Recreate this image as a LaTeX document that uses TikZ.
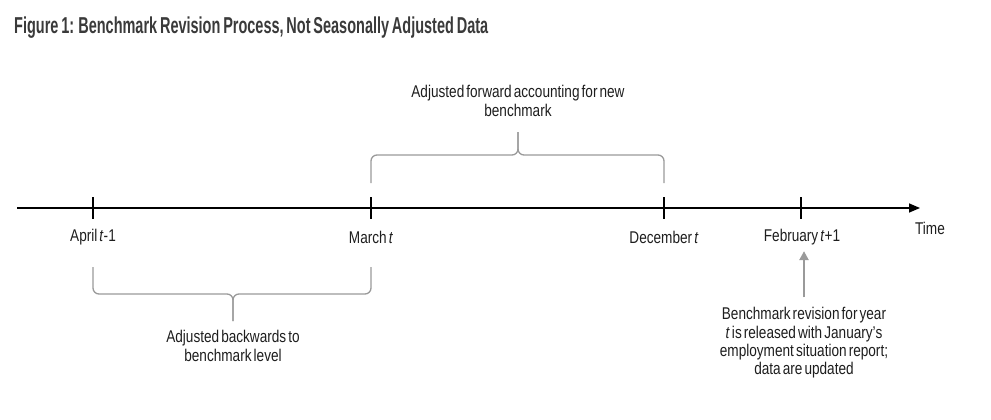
\documentclass[tikz,border=0pt]{standalone}
\usepackage{fontspec}
\setmainfont{Liberation Sans}[FakeStretch=0.8,WordSpace=0.55]
\newfontfamily\titlefont{Liberation Sans}[FakeStretch=0.63,WordSpace=0.7]
\usetikzlibrary{arrows.meta}
\definecolor{titlegray}{HTML}{3A3A3A}
\definecolor{bracegray}{HTML}{9A9A9A}
\definecolor{textblack}{HTML}{1E1E1E}

\tikzset{
  brace/.style={draw=bracegray, line width=1.3pt, rounded corners=6pt},
  tick/.style={line width=1.3pt},
  label/.style={text=textblack, inner sep=1pt},
  note/.style={text=textblack, align=center, inner sep=1pt},
}

\begin{document}
\begin{tikzpicture}[x=1pt,y=-1pt,font=\fontsize{17}{18.4}\selectfont]
                \useasboundingbox (0,0) rectangle (991,420);

                \node[anchor=west, inner sep=0, text=titlegray,
                      font=\titlefont\bfseries\fontsize{23}{26}\selectfont] (title) at (14,28)
                      {Figure 1: Benchmark Revision Process, Not Seasonally Adjusted Data};

                \coordinate (start) at (17,208);
                \coordinate (end) at (920,208);
                \coordinate (apr) at (93,208);
                \coordinate (mar) at (371,208);
                \coordinate (dec) at (664,208);
                \coordinate (feb) at (801,208);

                \draw[line width=1.5pt, -{Triangle[length=11pt,width=9pt]}] (start) -- (end);
                \foreach \m in {apr,mar,dec,feb}
                    \draw[tick] (\m) ++(0,-11) -- ++(0,22);

                \node[label] (aprlbl) at (93,237) {April \textit{t}-1};
                \node[label] (marlbl) at (371,237) {March \textit{t}};
                \node[label] (declbl) at (664,237) {December \textit{t}};
                \node[label] (feblbl) at (802,237) {February \textit{t}+1};
                \node[label] (timelbl) at (930,228) {Time};

                % backwards brace
                \draw[brace] (93,267) |- (233,294) -- (233,321);
                \draw[brace] (371,267) |- (233,294) -- (233,321);
                \node[note] (backlbl) at (233,346) {Adjusted backwards to\\benchmark level};

                % forward brace
                \draw[brace] (371,183) |- (518,155) -- (518,132);
                \draw[brace] (664,183) |- (518,155) -- (518,132);
                \node[note] (fwdlbl) at (518,101) {Adjusted forward accounting for new\\benchmark};

                \node[note] (revlbl) at (804,343)
                    {Benchmark revision for year\\\textit{t} is released with January’s\\employment situation report;\\data are updated};
                \draw[draw=bracegray, line width=2.5pt, -{Triangle[length=9pt,width=9pt]},
                      shorten <=9pt, shorten >=5pt]
                    (revlbl.north) -- (revlbl.north |- feblbl.south);

            \end{tikzpicture}
\end{document}
